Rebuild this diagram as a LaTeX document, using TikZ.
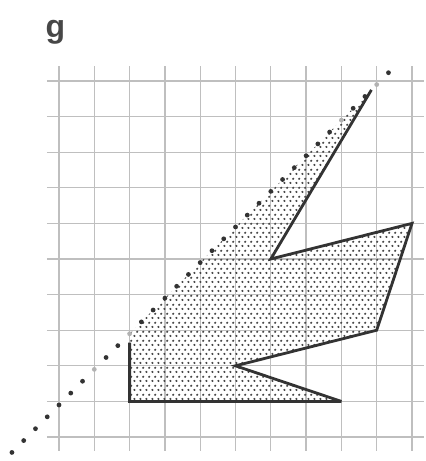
\documentclass[tikz,border=0pt]{standalone}
\usepackage{fontspec}
\setmainfont{Liberation Sans}
\usetikzlibrary{patterns.meta}
\tikzdeclarepattern{
  name=stipple,
  type=uncolored,
  bounding box={(0pt,0pt) and (5.8pt,8.6pt)},
  tile size={(5.8pt,8.6pt)},
  code={
    \fill (1.45pt,2.15pt) circle (1.2pt);
    \fill (4.35pt,6.45pt) circle (1.2pt);
  }
}
\tikzset{
  gridline/.style={draw=black!25, line width=1.3pt},
  outline/.style={draw=black!80, line width=2.8pt, line join=miter, miter limit=4},
  stipplefill/.style={pattern=stipple, pattern color=black!72},
  darkdot/.style={fill=black!80},
  lightdot/.style={fill=black!30},
}
\begin{document}
\begin{tikzpicture}
\useasboundingbox (0,0) rectangle (426pt,-461pt);
\node[anchor=base west, inner sep=0pt, font=\fontsize{32}{32}\selectfont\bfseries, text=black!72] (lbl) at (45.5pt,-37pt) {g};
\begin{scope}[shift={(59pt,-81pt)}, x=35.3pt, y=-35.6pt]
  % grid
  \foreach \i in {0,...,10} {
    \draw[gridline] (\i,-0.42) -- (\i,10.4);
    \draw[gridline] (-0.34,\i) -- (10.34,\i);
  }
  % vertices
  \coordinate (P1) at (2,7.1);
  \coordinate (P1b) at (2,7.35);
  \coordinate (A) at (2,9);
  \coordinate (B) at (8,9);
  \coordinate (C) at (5,8);
  \coordinate (D) at (9,7);
  \coordinate (Ec) at (10,4);
  \coordinate (F) at (6,5);
  \coordinate (E) at (8.85,0.25);
  % stipple
  \fill[stipplefill] (P1) -- (A) -- (B) -- (C) -- (D) -- (Ec) -- (F) -- (E) -- cycle;
  % outline
  \draw[outline] (P1b) -- (A) -- (B) -- (C) -- (D) -- (Ec) -- (F) -- (E);
  % dotted diagonal
  \foreach \k in {-4,...,28} {
    \ifnum\k=3 \def\ds{lightdot}\else\ifnum\k=6 \def\ds{lightdot}\else\ifnum\k=24 \def\ds{lightdot}\else\ifnum\k=27 \def\ds{lightdot}\else\def\ds{darkdot}\fi\fi\fi\fi
    \fill[\ds] ({\k/3},{9.1-\k/3}) circle [radius=2.4pt];
  }
\end{scope}
\end{tikzpicture}
\end{document}
